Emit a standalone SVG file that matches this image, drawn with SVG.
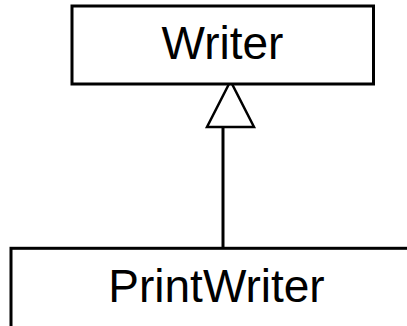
<svg xmlns="http://www.w3.org/2000/svg" width="407" height="326" viewBox="0 0 407 326">
  <style>
    .box { fill: #ffffff; stroke: #000000; stroke-width: 3; }
    .label { font-family: "Liberation Sans", Arial, sans-serif; font-size: 46px; fill: #000000; text-anchor: middle; }
    .edge { fill: none; stroke: #000000; stroke-width: 3; }
    .head { fill: #ffffff; stroke: #000000; stroke-width: 2.5; stroke-linejoin: miter; }
  </style>
  <rect width="407" height="326" fill="#ffffff"/>
  <g id="connectors">
    <line class="edge" x1="223" y1="127" x2="223" y2="248"/>
    <polygon class="head" points="230.5,81 207,127 254,127"/>
  </g>
  <g id="Writer">
    <rect class="box" x="72" y="6" width="301.5" height="78"/>
    <text class="label" x="222.5" y="59">Writer</text>
  </g>
  <g id="PrintWriter">
    <rect class="box" x="11" y="248.3" width="420" height="100"/>
    <text class="label" x="216.5" y="302">PrintWriter</text>
  </g>
</svg>
